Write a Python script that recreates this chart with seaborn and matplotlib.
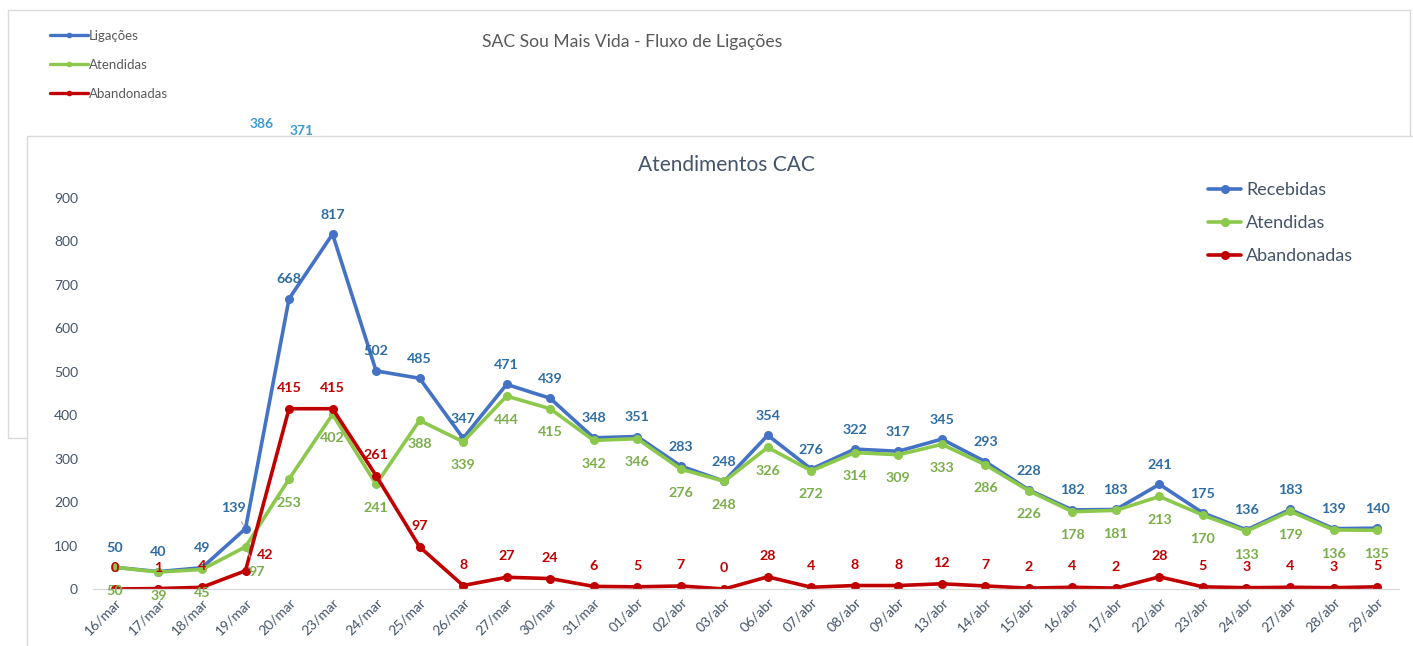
import numpy as np
import pandas as pd
import matplotlib
matplotlib.use("Agg")
import matplotlib.pyplot as plt
import seaborn as sns
from matplotlib.patches import Rectangle
from matplotlib.lines import Line2D

# ---------------- data ----------------
dates = ["16/mar", "17/mar", "18/mar", "19/mar", "20/mar", "23/mar", "24/mar", "25/mar",
         "26/mar", "27/mar", "30/mar", "31/mar", "01/abr", "02/abr", "03/abr", "06/abr",
         "07/abr", "08/abr", "09/abr", "13/abr", "14/abr", "15/abr", "16/abr", "17/abr",
         "22/abr", "23/abr", "24/abr", "27/abr", "28/abr", "29/abr"]
recebidas = [50, 40, 49, 139, 668, 817, 502, 485, 347, 471, 439, 348, 351, 283, 248, 354,
             276, 322, 317, 345, 293, 228, 182, 183, 241, 175, 136, 183, 139, 140]
atendidas = [50, 39, 45, 97, 253, 402, 241, 388, 339, 444, 415, 342, 346, 276, 248, 326,
             272, 314, 309, 333, 286, 226, 178, 181, 213, 170, 133, 179, 136, 135]
abandonadas = [0, 1, 4, 42, 415, 415, 261, 97, 8, 27, 24, 6, 5, 7, 0, 28,
               4, 8, 8, 12, 7, 2, 4, 2, 28, 5, 3, 4, 3, 5]
series_names = ["Recebidas", "Atendidas", "Abandonadas"]
y_ticks = [0, 100, 200, 300, 400, 500, 600, 700, 800, 900]

# background (mostly hidden) chart
bg_title = "SAC Sou Mais Vida - Fluxo de Ligações"
bg_series = ["Ligações", "Atendidas", "Abandonadas"]
bg_visible_labels = [386, 371]

# ---------------- style ----------------
sns.set_theme(style="white")
plt.rcParams["font.family"] = ["Lato", "DejaVu Sans"]

line_colors = {"Recebidas": "#4472C4", "Atendidas": "#8CC84B", "Abandonadas": "#C00000"}
label_colors = {"Recebidas": "#2E6DA4", "Atendidas": "#7AAE4A", "Abandonadas": "#C00000"}
text_gray = "#44546A"

W, H = 1413, 646
fig = plt.figure(figsize=(W / 100, H / 100), dpi=100)
fig.patch.set_facecolor("white")


def fx(px):
    return px / W


def fy(py):
    return 1 - py / H


# background panel
fig.patches.append(Rectangle((fx(8), fy(438)), fx(1410) - fx(8), fy(10) - fy(438),
                             transform=fig.transFigure, facecolor="white",
                             edgecolor="#D9D9D9", lw=1.0, zorder=0.1))
fig.text(fx(632), fy(42), bg_title, ha="center", va="center", fontsize=12.6,
         color="#595959", zorder=0.2)
bg_handles = [Line2D([], [], color=c, lw=2.4, marker="o", markersize=3)
              for c in ["#4472C4", "#8CC84B", "#C00000"]]
bg_leg = fig.legend(bg_handles, bg_series, loc="upper left",
                    bbox_to_anchor=(fx(43), fy(23)), frameon=False, fontsize=9.5,
                    handlelength=2.9, handletextpad=0.1, labelspacing=1.3,
                    borderpad=0, labelcolor="#595959")
bg_leg.set_zorder(0.2)
for val, (px, py) in zip(bg_visible_labels, [(262, 124), (302, 131)]):
    fig.text(fx(px), fy(py), str(val), ha="center", va="center", fontsize=10,
             fontweight="bold", color="#3C9AD6", zorder=0.2)

# foreground panel
fig.patches.append(Rectangle((fx(27), fy(700)), fx(1440) - fx(27), fy(136) - fy(700),
                             transform=fig.transFigure, facecolor="white",
                             edgecolor="#D9D9D9", lw=1.0, zorder=0.5))

# main axes
left_px, right_px, top_px, bottom_px = 93.2, 1398.8, 198, 589
ax = fig.add_axes([fx(left_px), fy(bottom_px), (right_px - left_px) / W,
                   (bottom_px - top_px) / H])
ax.set_zorder(1)
ax.patch.set_alpha(0)

x = np.arange(len(dates))
df = pd.DataFrame({
    "idx": np.tile(x, 3),
    "valor": recebidas + atendidas + abandonadas,
    "serie": np.repeat(series_names, len(dates)),
})
sns.lineplot(data=df, x="idx", y="valor", hue="serie", hue_order=series_names,
             palette=line_colors, marker="o", markersize=6.5, markeredgewidth=0,
             linewidth=2.6, legend=False, ax=ax, sort=False)

ax.set_xlim(-0.5, len(dates) - 0.5)
ax.set_ylim(0, 900)
ax.set_yticks(y_ticks)
ax.set_yticklabels([str(v) for v in y_ticks])
ax.set_xticks(x)
ax.set_xticklabels(dates, rotation=45, ha="right", rotation_mode="anchor")
ax.tick_params(axis="y", length=0, pad=11, labelsize=10, labelcolor=text_gray)
ax.tick_params(axis="x", length=0, pad=5, labelsize=10, labelcolor=text_gray)
ax.set_xlabel("")
ax.set_ylabel("")
for s in ["top", "left", "right"]:
    ax.spines[s].set_visible(False)
ax.spines["bottom"].set_color("#D9D9D9")
ax.spines["bottom"].set_linewidth(0.9)

# data labels
default_off = {"Recebidas": (0, 14), "Atendidas": (0, -17), "Abandonadas": (0, 15)}
special = {("Recebidas", 3): (-9, 15), ("Abandonadas", 3): (14, 11.5),
           ("Atendidas", 3): (8, -18)}
for name, vals in zip(series_names, [recebidas, atendidas, abandonadas]):
    for i, v in enumerate(vals):
        off = special.get((name, i), default_off[name])
        kw = {}
        if (name, i) in special:
            kw["arrowprops"] = dict(arrowstyle="-", color="#A6A6A6", lw=0.8,
                                    shrinkA=4, shrinkB=3)
        ax.annotate(str(v), (i, v), xytext=off, textcoords="offset points",
                    ha="center", va="center", fontsize=10.3, fontweight="bold",
                    color=label_colors[name], annotation_clip=False, **kw)

# legend and title
handles = ax.get_lines()[:3]
leg = ax.legend(handles, series_names, loc="upper left",
                bbox_to_anchor=(fx(1199), fy(173)), bbox_transform=fig.transFigure,
                frameon=False, fontsize=13, handlelength=1.85, handletextpad=0.25,
                labelspacing=0.95, borderpad=0, labelcolor=text_gray)
fig.text(fx(726), fy(165), "Atendimentos CAC", ha="center", va="center",
         fontsize=15, color=text_gray, zorder=2)

fig.savefig("out.png", dpi=100)
